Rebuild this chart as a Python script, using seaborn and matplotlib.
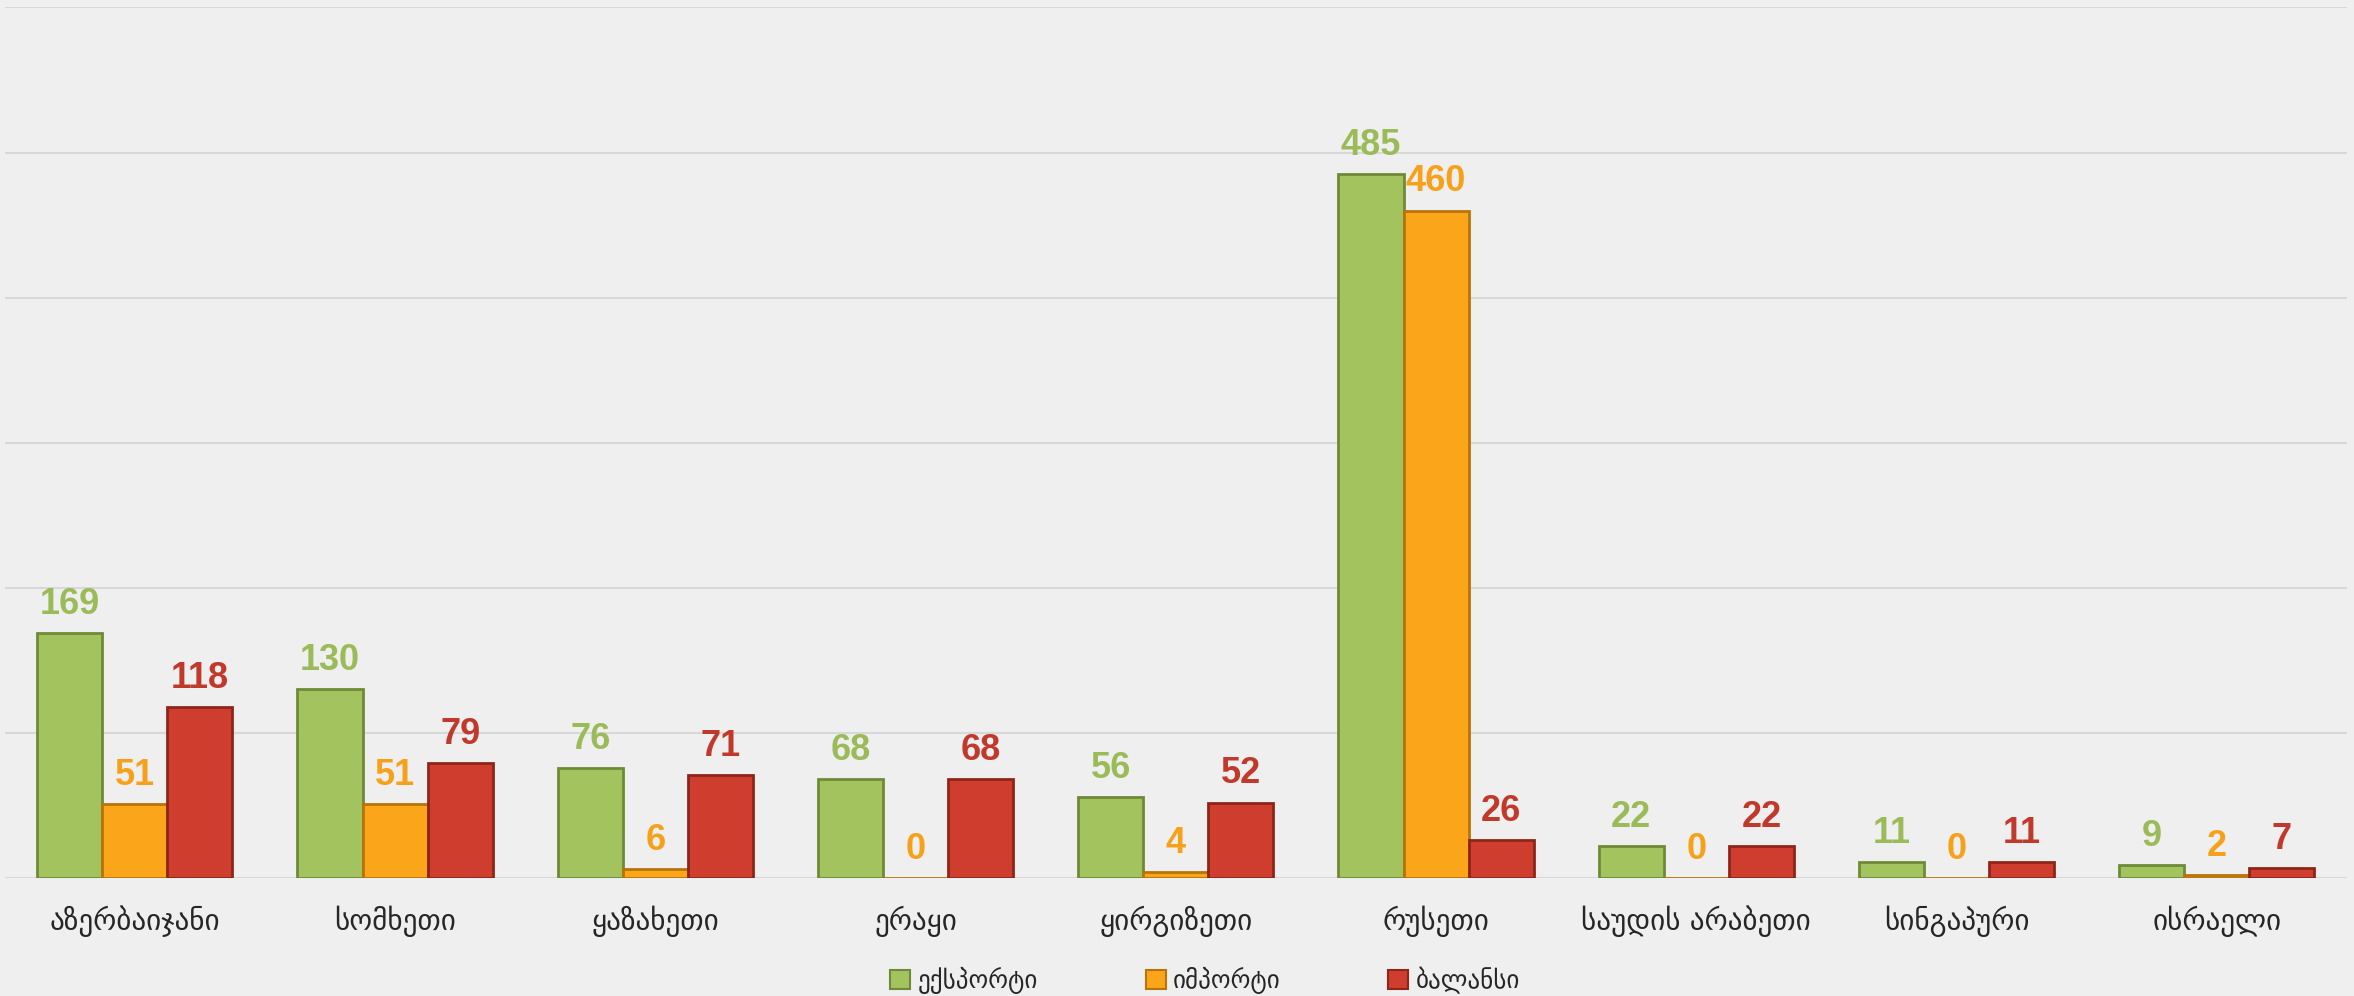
import pandas as pd
import seaborn as sns
import matplotlib.pyplot as plt
from matplotlib.patches import Patch

# data
countries = ["აზერბაიჯანი", "სომხეთი", "ყაზახეთი", "ერაყი", "ყირგიზეთი",
             "რუსეთი", "საუდის არაბეთი", "სინგაპური", "ისრაელი"]
export_vals = [169, 130, 76, 68, 56, 485, 22, 11, 9]
import_vals = [51, 51, 6, 0, 4, 460, 0, 0, 2]
balance_vals = [118, 79, 71, 68, 52, 26, 22, 11, 7]
series = ["ექსპორტი", "იმპორტი", "ბალანსი"]

bar_colors = ["#A2C35E", "#FBA51A", "#CF3D2E"]
edge_colors = ["#6E8A36", "#B8740A", "#8E2519"]
label_colors = ["#9BBB59", "#F7A11A", "#C0392B"]

df = pd.DataFrame({
    "country": countries * 3,
    "series": [series[0]] * 9 + [series[1]] * 9 + [series[2]] * 9,
    "value": export_vals + import_vals + balance_vals,
})

sns.set_style("white")
plt.rcParams["font.family"] = ["DejaVu Sans"]

fig = plt.figure(figsize=(23.54, 9.96), dpi=100)
fig.patch.set_facecolor("#EFEFEF")
ax = fig.add_axes([0.002, 0.1185, 0.995, 0.874])
ax.set_facecolor("#EFEFEF")

sns.barplot(data=df, x="country", y="value", hue="series", hue_order=series,
            palette=bar_colors, width=0.75, gap=0, saturation=1,
            edgecolor="none", legend=False, ax=ax)

for cont, ec, lc in zip(ax.containers, edge_colors, label_colors):
    for bar in cont:
        bar.set_edgecolor(ec)
        bar.set_linewidth(2)
    ax.bar_label(cont, labels=[f"{int(b.get_height())}" for b in cont],
                 padding=8, color=lc, fontsize=26, fontweight="bold",
                 family=["Liberation Sans"])

ax.set_ylim(0, 600)
ax.set_xlim(-0.5, 8.5)
ax.set_yticks(range(0, 601, 100))
ax.set_yticklabels([])
ax.tick_params(axis="y", length=0)
ax.tick_params(axis="x", length=0, pad=20, labelsize=21)
ax.yaxis.grid(True, color="#D8D8D8", linewidth=1.5)
ax.set_axisbelow(True)
ax.set_xlabel("")
ax.set_ylabel("")
for s in ax.spines.values():
    s.set_visible(False)

handles = [Patch(facecolor=c, edgecolor=e, linewidth=1.5) for c, e in zip(bar_colors, edge_colors)]
fig.legend(handles, series, loc="lower center", bbox_to_anchor=(0.512, -0.021),
           ncol=3, frameon=False, fontsize=18, handlelength=0.8, handleheight=0.8,
           handletextpad=0.3, columnspacing=4.3)

fig.savefig("out.png", dpi=100, facecolor=fig.get_facecolor())
